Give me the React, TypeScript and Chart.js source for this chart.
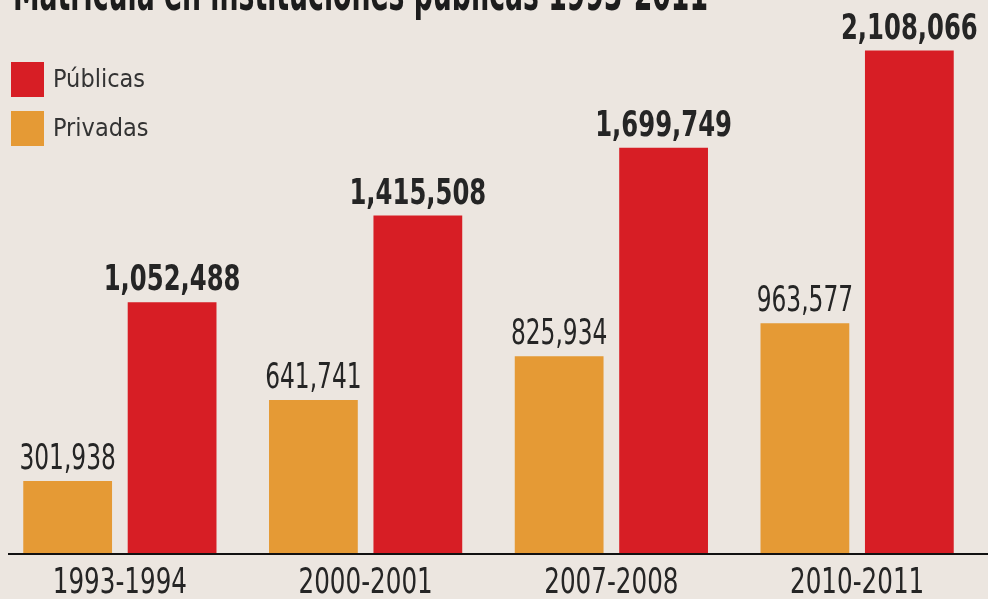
import React, { useEffect, useRef } from "react";
import Chart from "chart.js/auto";

const TITLE = "Matrícula en instituciones públicas 1993-2011";
const CATEGORIES = ["1993-1994", "2000-2001", "2007-2008", "2010-2011"];
const PRIVADAS = [301938, 641741, 825934, 963577];
const PUBLICAS = [1052488, 1415508, 1699749, 2108066];
const SERIES_LABELS = ["Privadas", "Públicas"];

const RED = "#d71e25";
const ORANGE = "#e59a35";
const BG = "#ece6e0";
const TEXT = "#252525";
const FAMILY = "'Liberation Sans Narrow', 'DejaVu Sans Condensed', 'Roboto Condensed', 'Liberation Sans', sans-serif";
const SHIFT = 3; // canvas is shifted 3px left of the page

function squeezeText(ctx: CanvasRenderingContext2D, txt: string, x: number, y: number, sx: number) {
  ctx.save();
  ctx.translate(x, y);
  ctx.scale(sx, 1);
  ctx.fillText(txt, 0, 0);
  ctx.restore();
}

const decorPlugin = {
  id: "decor",
  afterDatasetsDraw(chart: any) {
    const ctx = chart.ctx as CanvasRenderingContext2D;
    const area = chart.chartArea;
    ctx.save();
    // axis line
    ctx.strokeStyle = "#111";
    ctx.lineWidth = 2;
    ctx.beginPath();
    ctx.moveTo(8 + SHIFT, area.bottom + 1);
    ctx.lineTo(chart.width, area.bottom + 1);
    ctx.stroke();

    // category labels from the x scale
    const xs = chart.scales.x;
    ctx.font = `36px ${FAMILY}`;
    ctx.fillStyle = TEXT;
    ctx.textAlign = "center";
    ctx.textBaseline = "alphabetic";
    xs.getLabels().forEach((lab: string, i: number) => {
      squeezeText(ctx, lab, xs.getPixelForTick(i), area.bottom + 40, 0.76);
    });

    // value labels
    chart.data.datasets.forEach((ds: any, di: number) => {
      const meta = chart.getDatasetMeta(di);
      const bold = di === 1;
      ctx.font = `${bold ? "bold " : ""}36px ${FAMILY}`;
      ctx.fillStyle = TEXT;
      ctx.textAlign = "center";
      ctx.textBaseline = "alphabetic";
      meta.data.forEach((bar: any, i: number) => {
        const v = ds.data[i] as number;
        squeezeText(ctx, v.toLocaleString("en-US"), bar.x, bar.y - 12, bold ? 0.75 : 0.72);
      });
    });

    // title (partially cut at top)
    ctx.font = `bold 50px ${FAMILY}`;
    ctx.textAlign = "left";
    ctx.fillStyle = "#1c1c1c";
    const w = ctx.measureText(TITLE).width;
    squeezeText(ctx, TITLE, 13 + SHIFT, 10, 695 / w);

    // legend (Públicas first, then Privadas)
    const order = [1, 0];
    order.forEach((di, k) => {
      const ds = chart.data.datasets[di];
      const top = 62 + k * 49;
      ctx.fillStyle = ds.backgroundColor;
      ctx.fillRect(11 + SHIFT, top, 33, 35);
      ctx.fillStyle = "#333";
      ctx.font = `25px ${FAMILY}`;
      ctx.textBaseline = "middle";
      ctx.textAlign = "left";
      ctx.fillText(ds.label, 53 + SHIFT, top + 18);
    });
    ctx.restore();
  },
};

export default function App() {
  const ref = useRef<HTMLCanvasElement | null>(null);
  useEffect(() => {
    if (!ref.current) return;
    const chart = new Chart(ref.current, {
      type: "bar",
      data: {
        labels: CATEGORIES,
        datasets: [
          {
            label: SERIES_LABELS[0],
            data: PRIVADAS,
            backgroundColor: ORANGE,
            categoryPercentage: 0.85,
            barPercentage: 0.85,
          },
          {
            label: SERIES_LABELS[1],
            data: PUBLICAS,
            backgroundColor: RED,
            categoryPercentage: 0.85,
            barPercentage: 0.85,
          },
        ],
      },
      options: {
        animation: false,
        responsive: true,
        maintainAspectRatio: false,
        layout: { padding: { top: 0, right: 8, left: 0, bottom: 0 } },
        plugins: { legend: { display: false }, tooltip: { enabled: false }, title: { display: false } },
        scales: {
          x: {
            grid: { display: false },
            border: { display: false },
            ticks: { display: false },
            afterFit: (scale: any) => {
              scale.height = 46;
            },
          },
          y: { display: false, min: 0, max: 2320000 },
        },
      },
      plugins: [decorPlugin],
    });
    return () => chart.destroy();
  }, []);
  return (
    <div style={{ position: "fixed", left: 0, top: 0, width: 988, height: 599, background: BG, overflow: "hidden" }}>
      <div style={{ position: "absolute", left: -SHIFT, top: 0, width: 988 + SHIFT, height: 599 }}>
        <canvas ref={ref} />
      </div>
    </div>
  );
}
